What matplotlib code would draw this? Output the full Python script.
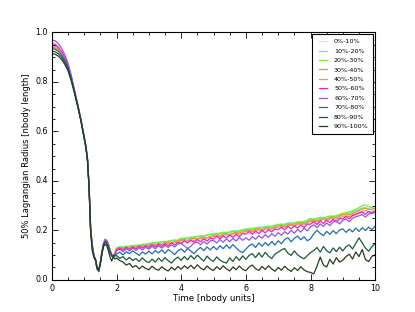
import numpy as np
import matplotlib
matplotlib.use("Agg")
import matplotlib.pyplot as plt
from matplotlib.ticker import MultipleLocator

# time grid: coarse before collapse, finer around it, then every 0.1
t = np.round(np.concatenate([np.arange(0.0, 1.0, 0.1),
                             np.arange(1.0, 2.0, 0.05),
                             np.arange(2.0, 10.01, 0.1)]), 3)

labels = ["0%-10%", "10%-20%", "20%-30%", "30%-40%", "40%-50%",
          "50%-60%", "60%-70%", "70%-80%", "80%-90%", "90%-100%"]
colors = ["#b8f2f8", "#55efc4", "#77ee33", "#e0a010", "#ff8a78",
          "#ee22bb", "#9055e8", "#1f6fa8", "#1b5a3a", "#283c1e"]

r_00_10 = [0.950, 0.947, 0.937, 0.920, 0.897, 0.866, 0.820, 0.764, 0.707, 0.646,
           0.576, 0.540, 0.490, 0.380, 0.200, 0.140, 0.100, 0.080, 0.046, 0.036,
           0.072, 0.117, 0.150, 0.165, 0.160, 0.144, 0.122, 0.104, 0.096, 0.110,
           0.128, 0.132, 0.136, 0.131, 0.138, 0.135, 0.141, 0.138, 0.145, 0.141,
           0.148, 0.145, 0.151, 0.154, 0.150, 0.157, 0.153, 0.160, 0.163, 0.159,
           0.166, 0.170, 0.166, 0.173, 0.175, 0.171, 0.179, 0.175, 0.183, 0.185,
           0.187, 0.190, 0.186, 0.193, 0.189, 0.197, 0.198, 0.194, 0.202, 0.204,
           0.206, 0.209, 0.211, 0.207, 0.214, 0.216, 0.212, 0.220, 0.216, 0.223,
           0.225, 0.228, 0.222, 0.231, 0.233, 0.228, 0.236, 0.238, 0.233, 0.241,
           0.245, 0.249, 0.244, 0.252, 0.254, 0.250, 0.258, 0.260, 0.256, 0.264,
           0.266, 0.270, 0.271, 0.276, 0.280, 0.286, 0.291, 0.294, 0.288, 0.286,
           0.291]
r_10_20 = [0.945, 0.942, 0.932, 0.916, 0.893, 0.862, 0.817, 0.762, 0.706, 0.645,
           0.575, 0.539, 0.489, 0.378, 0.198, 0.138, 0.099, 0.079, 0.045, 0.035,
           0.071, 0.116, 0.149, 0.164, 0.159, 0.143, 0.121, 0.103, 0.095, 0.108,
           0.127, 0.131, 0.134, 0.130, 0.136, 0.139, 0.136, 0.142, 0.139, 0.145,
           0.144, 0.149, 0.151, 0.148, 0.154, 0.156, 0.153, 0.159, 0.161, 0.158,
           0.164, 0.168, 0.170, 0.167, 0.173, 0.176, 0.172, 0.178, 0.181, 0.183,
           0.185, 0.188, 0.185, 0.191, 0.193, 0.190, 0.196, 0.199, 0.195, 0.201,
           0.204, 0.207, 0.204, 0.210, 0.212, 0.209, 0.215, 0.217, 0.214, 0.220,
           0.222, 0.225, 0.221, 0.228, 0.230, 0.226, 0.233, 0.235, 0.232, 0.238,
           0.242, 0.245, 0.242, 0.248, 0.251, 0.248, 0.254, 0.257, 0.254, 0.260,
           0.264, 0.267, 0.269, 0.274, 0.279, 0.284, 0.290, 0.292, 0.286, 0.285,
           0.289]
r_20_30 = [0.942, 0.939, 0.930, 0.914, 0.891, 0.861, 0.816, 0.761, 0.705, 0.645,
           0.575, 0.540, 0.490, 0.380, 0.200, 0.140, 0.100, 0.080, 0.045, 0.035,
           0.070, 0.115, 0.149, 0.165, 0.160, 0.144, 0.122, 0.104, 0.096, 0.110,
           0.130, 0.134, 0.130, 0.137, 0.133, 0.138, 0.140, 0.137, 0.143, 0.145,
           0.147, 0.150, 0.146, 0.152, 0.154, 0.151, 0.157, 0.159, 0.156, 0.162,
           0.169, 0.165, 0.171, 0.173, 0.170, 0.176, 0.178, 0.175, 0.181, 0.184,
           0.188, 0.184, 0.190, 0.192, 0.189, 0.194, 0.197, 0.193, 0.199, 0.202,
           0.205, 0.202, 0.207, 0.209, 0.206, 0.212, 0.214, 0.211, 0.217, 0.220,
           0.224, 0.220, 0.226, 0.229, 0.225, 0.231, 0.234, 0.230, 0.237, 0.241,
           0.249, 0.244, 0.250, 0.253, 0.249, 0.255, 0.258, 0.254, 0.261, 0.264,
           0.269, 0.272, 0.275, 0.280, 0.286, 0.292, 0.300, 0.303, 0.296, 0.292,
           0.298]
r_30_40 = [0.940, 0.937, 0.928, 0.912, 0.890, 0.860, 0.815, 0.760, 0.705, 0.644,
           0.574, 0.539, 0.489, 0.379, 0.199, 0.139, 0.100, 0.080, 0.045, 0.035,
           0.070, 0.115, 0.148, 0.163, 0.158, 0.142, 0.120, 0.103, 0.095, 0.108,
           0.126, 0.130, 0.126, 0.133, 0.129, 0.135, 0.132, 0.137, 0.139, 0.136,
           0.142, 0.144, 0.141, 0.147, 0.144, 0.150, 0.152, 0.149, 0.155, 0.157,
           0.161, 0.163, 0.160, 0.166, 0.168, 0.165, 0.171, 0.173, 0.170, 0.176,
           0.179, 0.182, 0.178, 0.185, 0.187, 0.183, 0.189, 0.192, 0.189, 0.195,
           0.199, 0.201, 0.198, 0.204, 0.206, 0.203, 0.209, 0.211, 0.208, 0.214,
           0.217, 0.220, 0.216, 0.223, 0.225, 0.221, 0.228, 0.230, 0.227, 0.233,
           0.239, 0.241, 0.238, 0.244, 0.247, 0.244, 0.251, 0.254, 0.251, 0.258,
           0.263, 0.266, 0.263, 0.269, 0.274, 0.280, 0.286, 0.289, 0.285, 0.283,
           0.290]
r_40_50 = [0.948, 0.945, 0.935, 0.918, 0.895, 0.864, 0.818, 0.762, 0.706, 0.645,
           0.575, 0.540, 0.490, 0.380, 0.200, 0.139, 0.099, 0.079, 0.045, 0.035,
           0.070, 0.114, 0.148, 0.163, 0.158, 0.142, 0.120, 0.102, 0.094, 0.107,
           0.124, 0.128, 0.125, 0.131, 0.128, 0.133, 0.130, 0.136, 0.133, 0.138,
           0.137, 0.142, 0.139, 0.145, 0.142, 0.148, 0.145, 0.151, 0.153, 0.150,
           0.157, 0.159, 0.156, 0.162, 0.159, 0.165, 0.167, 0.164, 0.170, 0.172,
           0.175, 0.178, 0.174, 0.181, 0.183, 0.179, 0.185, 0.188, 0.185, 0.191,
           0.195, 0.197, 0.194, 0.200, 0.202, 0.198, 0.205, 0.207, 0.204, 0.210,
           0.213, 0.216, 0.212, 0.219, 0.221, 0.217, 0.224, 0.226, 0.223, 0.229,
           0.235, 0.237, 0.234, 0.240, 0.243, 0.239, 0.246, 0.248, 0.245, 0.252,
           0.256, 0.259, 0.256, 0.263, 0.267, 0.272, 0.277, 0.280, 0.276, 0.274,
           0.280]
r_50_60 = [0.955, 0.952, 0.941, 0.923, 0.899, 0.867, 0.820, 0.763, 0.707, 0.646,
           0.576, 0.541, 0.491, 0.382, 0.202, 0.140, 0.099, 0.078, 0.044, 0.034,
           0.069, 0.113, 0.147, 0.162, 0.157, 0.141, 0.118, 0.100, 0.092, 0.105,
           0.121, 0.129, 0.120, 0.131, 0.123, 0.133, 0.125, 0.136, 0.128, 0.138,
           0.131, 0.142, 0.133, 0.144, 0.135, 0.146, 0.138, 0.150, 0.141, 0.152,
           0.147, 0.158, 0.149, 0.160, 0.151, 0.163, 0.154, 0.166, 0.157, 0.169,
           0.165, 0.176, 0.166, 0.178, 0.169, 0.181, 0.172, 0.184, 0.175, 0.187,
           0.185, 0.195, 0.184, 0.197, 0.187, 0.200, 0.190, 0.203, 0.194, 0.206,
           0.203, 0.213, 0.202, 0.216, 0.206, 0.219, 0.209, 0.222, 0.212, 0.225,
           0.225, 0.235, 0.224, 0.238, 0.228, 0.241, 0.231, 0.244, 0.234, 0.248,
           0.246, 0.257, 0.247, 0.260, 0.264, 0.270, 0.274, 0.265, 0.276, 0.270,
           0.277]
r_60_70 = [0.970, 0.966, 0.955, 0.936, 0.910, 0.876, 0.827, 0.768, 0.710, 0.648,
           0.578, 0.543, 0.493, 0.385, 0.205, 0.141, 0.099, 0.077, 0.043, 0.033,
           0.067, 0.111, 0.145, 0.160, 0.155, 0.138, 0.115, 0.097, 0.090, 0.102,
           0.118, 0.124, 0.114, 0.126, 0.117, 0.128, 0.119, 0.130, 0.121, 0.132,
           0.124, 0.135, 0.126, 0.138, 0.128, 0.140, 0.131, 0.142, 0.133, 0.145,
           0.148, 0.137, 0.127, 0.136, 0.149, 0.153, 0.142, 0.155, 0.145, 0.158,
           0.160, 0.149, 0.163, 0.152, 0.166, 0.154, 0.168, 0.157, 0.171, 0.160,
           0.170, 0.160, 0.175, 0.164, 0.179, 0.168, 0.183, 0.172, 0.187, 0.176,
           0.191, 0.180, 0.195, 0.185, 0.200, 0.189, 0.204, 0.193, 0.209, 0.198,
           0.214, 0.222, 0.211, 0.226, 0.216, 0.230, 0.219, 0.234, 0.238, 0.226,
           0.240, 0.247, 0.235, 0.249, 0.255, 0.259, 0.264, 0.254, 0.266, 0.269,
           0.272]
r_70_80 = [0.935, 0.932, 0.924, 0.909, 0.887, 0.858, 0.814, 0.760, 0.704, 0.644,
           0.574, 0.538, 0.488, 0.376, 0.196, 0.136, 0.098, 0.079, 0.045, 0.036,
           0.069, 0.112, 0.144, 0.156, 0.151, 0.135, 0.114, 0.098, 0.090, 0.099,
           0.104, 0.112, 0.101, 0.114, 0.106, 0.117, 0.108, 0.099, 0.113, 0.104,
           0.116, 0.105, 0.119, 0.109, 0.121, 0.107, 0.123, 0.113, 0.102, 0.118,
           0.125, 0.112, 0.127, 0.116, 0.106, 0.121, 0.131, 0.118, 0.133, 0.121,
           0.135, 0.122, 0.138, 0.126, 0.141, 0.127, 0.143, 0.129, 0.117, 0.110,
           0.124, 0.138, 0.145, 0.131, 0.149, 0.136, 0.151, 0.139, 0.155, 0.141,
           0.158, 0.146, 0.163, 0.171, 0.154, 0.168, 0.177, 0.162, 0.174, 0.158,
           0.166, 0.186, 0.201, 0.188, 0.179, 0.196, 0.184, 0.199, 0.187, 0.202,
           0.206, 0.192, 0.205, 0.194, 0.209, 0.196, 0.211, 0.199, 0.213, 0.203,
           0.216]
r_80_90 = [0.925, 0.922, 0.914, 0.900, 0.879, 0.852, 0.809, 0.757, 0.702, 0.643,
           0.573, 0.537, 0.487, 0.374, 0.194, 0.128, 0.094, 0.081, 0.047, 0.038,
           0.068, 0.110, 0.141, 0.151, 0.146, 0.131, 0.110, 0.096, 0.100, 0.097,
           0.098, 0.087, 0.094, 0.080, 0.091, 0.078, 0.086, 0.074, 0.089, 0.076,
           0.070, 0.084, 0.072, 0.088, 0.075, 0.090, 0.077, 0.068, 0.083, 0.092,
           0.079, 0.094, 0.081, 0.098, 0.084, 0.100, 0.087, 0.076, 0.096, 0.082,
           0.075, 0.093, 0.080, 0.072, 0.068, 0.089, 0.074, 0.094, 0.079, 0.097,
           0.083, 0.099, 0.106, 0.090, 0.109, 0.092, 0.111, 0.096, 0.086, 0.104,
           0.112, 0.121, 0.127, 0.108, 0.099, 0.117, 0.101, 0.092, 0.085, 0.098,
           0.110, 0.119, 0.131, 0.112, 0.135, 0.118, 0.109, 0.129, 0.114, 0.132,
           0.117, 0.134, 0.141, 0.125, 0.147, 0.170, 0.149, 0.128, 0.116, 0.134,
           0.148]
r_90_100 = [0.915, 0.912, 0.904, 0.891, 0.871, 0.845, 0.804, 0.754, 0.700, 0.642,
            0.572, 0.536, 0.486, 0.372, 0.190, 0.118, 0.090, 0.084, 0.050, 0.040,
            0.066, 0.106, 0.135, 0.143, 0.138, 0.117, 0.092, 0.076, 0.094, 0.084,
            0.088, 0.078, 0.072, 0.060, 0.066, 0.051, 0.058, 0.044, 0.056, 0.046,
            0.041, 0.055, 0.044, 0.039, 0.053, 0.042, 0.036, 0.051, 0.040, 0.054,
            0.043, 0.057, 0.046, 0.059, 0.045, 0.061, 0.048, 0.040, 0.056, 0.044,
            0.038, 0.053, 0.042, 0.057, 0.044, 0.036, 0.052, 0.041, 0.056, 0.043,
            0.037, 0.052, 0.060, 0.045, 0.038, 0.054, 0.042, 0.057, 0.044, 0.035,
            0.050, 0.039, 0.055, 0.043, 0.034, 0.049, 0.038, 0.053, 0.040, 0.033,
            0.030, 0.024, 0.055, 0.092, 0.060, 0.052, 0.083, 0.064, 0.090, 0.072,
            0.080, 0.094, 0.104, 0.084, 0.113, 0.094, 0.123, 0.082, 0.074, 0.095,
            0.101]

series = [r_00_10, r_10_20, r_20_30, r_30_40, r_40_50,
          r_50_60, r_60_70, r_70_80, r_80_90, r_90_100]

plt.style.use("classic")
plt.rcParams["font.family"] = "DejaVu Sans"

fig = plt.figure(figsize=(4.15, 3.12), dpi=100, facecolor="white")
ax = fig.add_subplot(111)
fig.subplots_adjust(left=0.125, right=0.904, bottom=0.103, top=0.896)

for vals, lab, col in zip(series, labels, colors):
    ax.plot(t, vals, color=col, lw=0.9, label=lab)

ax.set_xlim(0, 10)
ax.set_ylim(0, 1.0)
ax.xaxis.set_major_locator(MultipleLocator(2))
ax.xaxis.set_minor_locator(MultipleLocator(0.5))
ax.yaxis.set_major_locator(MultipleLocator(0.2))
ax.yaxis.set_minor_locator(MultipleLocator(0.05))
ax.tick_params(which="major", length=4, labelsize=5.8, width=0.6, pad=3)
ax.tick_params(which="minor", length=2, width=0.6)
for sp in ax.spines.values():
    sp.set_linewidth(0.8)

ax.set_xlabel("Time [nbody units]", fontsize=6.2, labelpad=1)
ax.set_ylabel("50% Lagrangian Radius [nbody length]", fontsize=6, labelpad=3)

leg = ax.legend(loc="upper right", fontsize=4.6, frameon=True,
                borderaxespad=0.3, handlelength=1.9, handletextpad=0.8,
                labelspacing=0.62, borderpad=0.7)
leg.get_frame().set_linewidth(0.8)

fig.savefig("out.png", dpi=100, facecolor="white")
